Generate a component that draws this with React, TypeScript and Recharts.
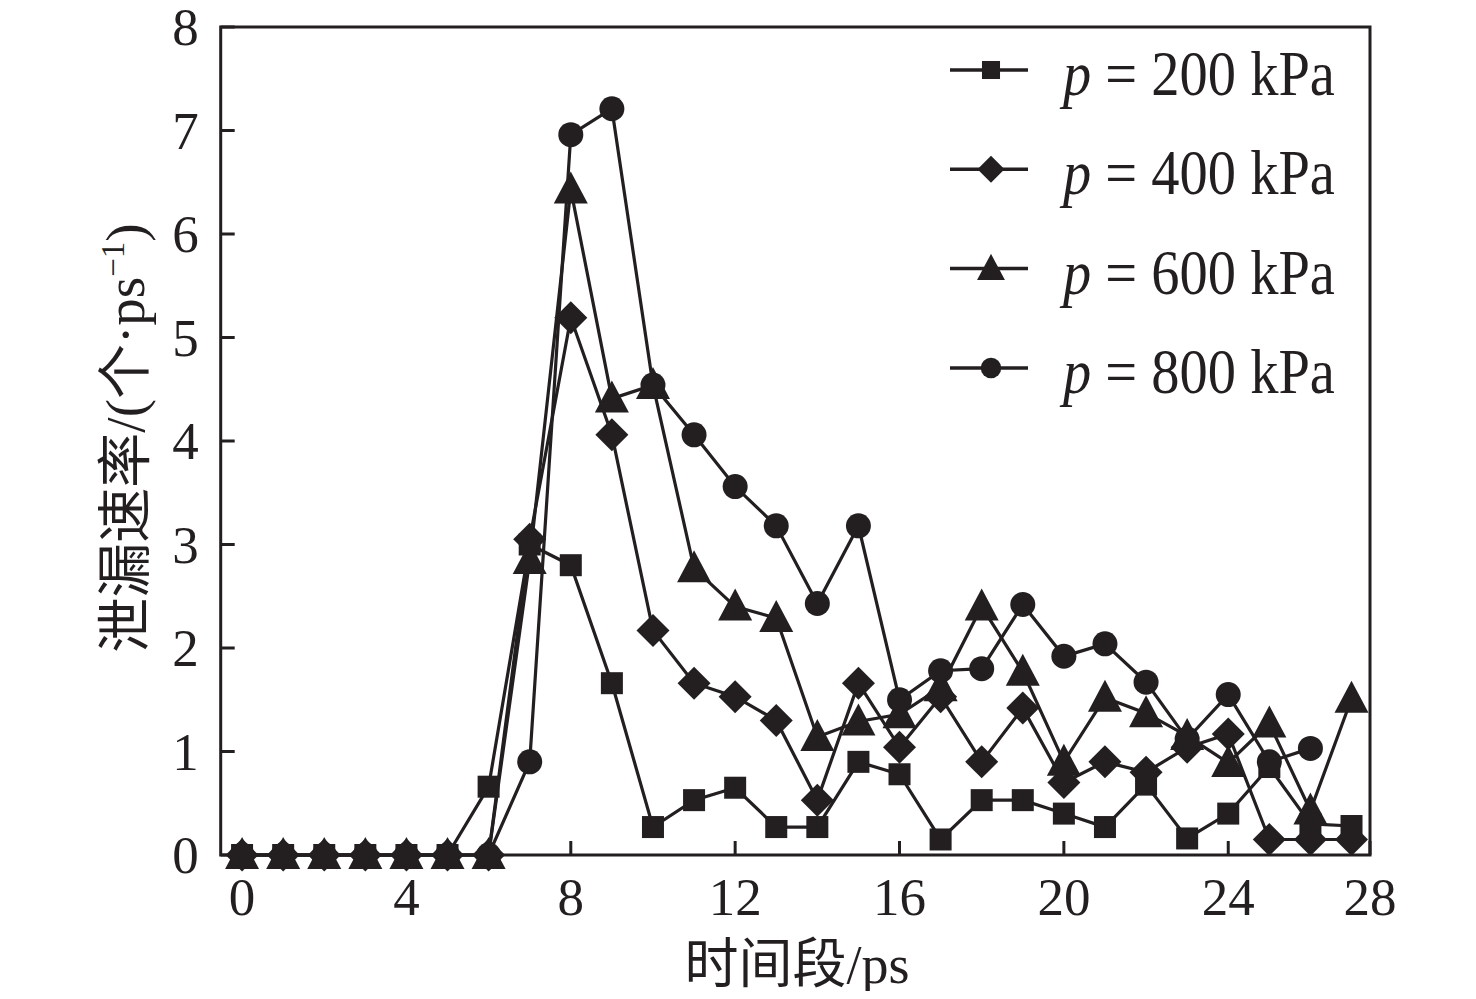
import React from 'react';
import { LineChart, Line, XAxis, YAxis, Legend, ReferenceArea } from 'recharts';

// ---- data ----
const timeSteps = [0, 1, 2, 3, 4, 5, 6, 7, 8, 9, 10, 11, 12, 13, 14, 15, 16, 17, 18, 19, 20, 21, 22, 23, 24, 25, 26, 27];
const rate200 = [0, 0, 0, 0, 0, 0, 0.66, 3.0, 2.8, 1.66, 0.27, 0.53, 0.65, 0.27, 0.27, 0.9, 0.78, 0.15, 0.53, 0.53, 0.4, 0.27, 0.68, 0.16, 0.4, 0.85, 0.3, 0.28];
const rate400 = [0, 0, 0, 0, 0, 0, 0, 3.05, 5.19, 4.06, 2.17, 1.66, 1.53, 1.3, 0.53, 1.66, 1.04, 1.53, 0.9, 1.42, 0.7, 0.9, 0.8, 1.04, 1.17, 0.15, 0.15, 0.15];
const rate600 = [0, 0, 0, 0, 0, 0, 0, 2.85, 6.43, 4.41, 4.54, 2.77, 2.4, 2.29, 1.14, 1.29, 1.36, 1.62, 2.4, 1.77, 0.9, 1.52, 1.37, 1.15, 0.89, 1.27, 0.43, 1.51];
const rate800 = [0, 0, 0, 0, 0, 0, 0, 0.9, 6.96, 7.21, 4.54, 4.06, 3.56, 3.18, 2.43, 3.18, 1.5, 1.78, 1.8, 2.42, 1.92, 2.04, 1.67, 1.12, 1.55, 0.9, 1.03, null];

const xDomain = [-0.52, 27.45];
const xTickValues = [0, 4, 8, 12, 16, 20, 24, 27.45];
const xTickLabels = ['0', '4', '8', '12', '16', '20', '24', '28'];
const yTickValues = [0, 1, 2, 3, 4, 5, 6, 7, 8];
const seriesKeys = ['p200', 'p400', 'p600', 'p800'];
const seriesPressures = ['200', '400', '600', '800'];
const seriesShapes = ['square', 'diamond', 'triangle', 'circle'];

const data = timeSteps.map((t, i) => ({
  t,
  p200: rate200[i],
  p400: rate400[i],
  p600: rate600[i],
  p800: rate800[i],
}));

// ---- styles ----
const INK = '#231f20';
const SERIF = "'Liberation Serif', 'Times New Roman', serif";
const CJK = "'Liberation Serif', 'Noto Sans CJK SC', serif";
const W = 1460;
const H = 983;

function Marker({ shape, cx, cy, s = 1 }: { shape: string; cx: number; cy: number; s?: number }) {
  if (shape === 'square') {
    const h = 11 * s;
    return <rect x={cx - h} y={cy - h} width={2 * h} height={2 * h} fill={INK} />;
  }
  if (shape === 'diamond') {
    const h = 16.5 * s;
    return <polygon points={`${cx},${cy - h} ${cx + h},${cy} ${cx},${cy + h} ${cx - h},${cy}`} fill={INK} />;
  }
  if (shape === 'triangle') {
    const hw = 17 * s;
    return (
      <polygon
        points={`${cx},${cy - 18 * s} ${cx + hw},${cy + 14 * s} ${cx - hw},${cy + 14 * s}`}
        fill={INK}
      />
    );
  }
  return <circle cx={cx} cy={cy} r={12.5 * s} fill={INK} />;
}

const makeDot = (shape: string) => (props: any) => {
  const { cx, cy, index } = props;
  if (cx == null || cy == null || props.value == null) return <g key={`e-${shape}-${index}`} />;
  return (
    <g key={`d-${shape}-${index}`}>
      <Marker shape={shape} cx={cx} cy={cy} />
    </g>
  );
};

const XTick = (props: any) => {
  const { x, y, payload } = props;
  const idx = xTickValues.indexOf(payload.value);
  const label = idx >= 0 ? xTickLabels[idx] : String(payload.value);
  return (
    <g>
      <line x1={x} y1={y} x2={x} y2={y - 14} stroke={INK} strokeWidth={3} />
      <text x={x} y={y + 60} textAnchor="middle" fontFamily={SERIF} fontSize={53} fill={INK}>
        {label}
      </text>
    </g>
  );
};

const YTick = (props: any) => {
  const { x, y, payload } = props;
  return (
    <g>
      <line x1={x} y1={y} x2={x + 14} y2={y} stroke={INK} strokeWidth={3} />
      <text x={x - 22} y={y + 18} textAnchor="end" fontFamily={SERIF} fontSize={53} fill={INK}>
        {payload.value}
      </text>
    </g>
  );
};

const renderLegend = () => (
  <svg width={430} height={380} style={{ overflow: 'visible' }}>
    {seriesKeys.map((k, i) => {
      const cy = 35 + i * 99.3;
      return (
        <g key={k}>
          <line x1={0} x2={78} y1={cy} y2={cy} stroke={INK} strokeWidth={3.5} />
          <Marker shape={seriesShapes[i]} cx={41} cy={cy} s={0.82} />
          <text
            transform={`translate(113, ${cy + 25}) scale(1, 1.12)`}
            x={0}
            y={0}
            fontFamily={SERIF}
            fontSize={56.5}
            fill={INK}
          >
            <tspan fontStyle="italic">p</tspan>
            <tspan> = {seriesPressures[i]} kPa</tspan>
          </text>
        </g>
      );
    })}
  </svg>
);

export default function App() {
  return (
    <div style={{ position: 'relative', width: W, height: H, background: '#fff' }}>
      <style>{'svg { overflow: visible; }'}</style>
      <LineChart
        width={W}
        height={H}
        data={data}
        margin={{ top: 19, right: 98, bottom: 76, left: 152.7 }}
        style={{ overflow: 'visible' }}
      >
        <XAxis
          dataKey="t"
          type="number"
          domain={xDomain}
          ticks={xTickValues}
          interval={0}
          axisLine={false}
          tickLine={false}
          tickSize={0}
          tickMargin={0}
          height={60}
          tick={<XTick />}
        />
        <YAxis
          type="number"
          domain={[0, 8]}
          ticks={yTickValues}
          interval={0}
          axisLine={false}
          tickLine={false}
          tickSize={0}
          tickMargin={0}
          width={60}
          tick={<YTick />}
        />
        <ReferenceArea
          x1={xDomain[0]}
          x2={xDomain[1]}
          y1={0}
          y2={8}
          fill="none"
          fillOpacity={0}
          stroke={INK}
          strokeWidth={3}
          strokeOpacity={1}
        />
        {seriesKeys.map((k, i) => (
          <Line
            key={k}
            dataKey={k}
            name={`p = ${seriesPressures[i]} kPa`}
            type="linear"
            stroke={INK}
            strokeWidth={3.2}
            dot={makeDot(seriesShapes[i])}
            activeDot={false}
            connectNulls={false}
            isAnimationActive={false}
          />
        ))}
        <Legend
          layout="vertical"
          align="center"
          verticalAlign="middle"
          wrapperStyle={{ position: 'absolute', left: 942, top: 27, width: 430, height: 380 }}
          content={renderLegend}
        />
      </LineChart>
      <div
        style={{
          position: 'absolute',
          left: 789,
          top: 957,
          transform: 'translate(-50%, -50%)',
          whiteSpace: 'nowrap',
          fontFamily: CJK,
          fontSize: 54,
          color: INK,
          lineHeight: 1,
        }}
      >
        时间段/ps
      </div>
      <div
        style={{
          position: 'absolute',
          left: 117,
          top: 430,
          transform: 'translate(-50%, -50%) rotate(-90deg)',
          whiteSpace: 'nowrap',
          fontFamily: CJK,
          fontSize: 55,
          color: INK,
          lineHeight: 1,
        }}
      >
        泄漏速率/(个·ps<sup style={{ fontSize: '0.6em', lineHeight: 0 }}>−1</sup>)
      </div>
    </div>
  );
}
